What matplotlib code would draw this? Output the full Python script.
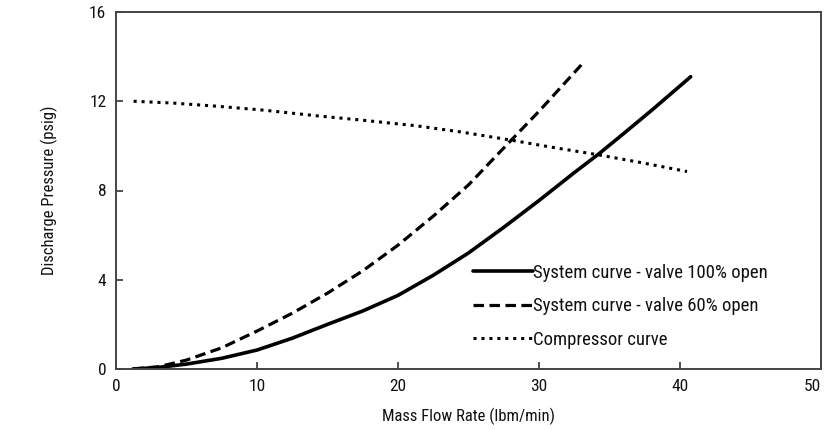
import matplotlib
matplotlib.use("Agg")
import matplotlib.pyplot as plt
from matplotlib import font_manager

names = {f.name for f in font_manager.fontManager.ttflist}
fam = [n for n in ["Liberation Sans Narrow", "Roboto Condensed", "Roboto", "DejaVu Sans"] if n in names]
plt.rcParams['font.family'] = fam

# Data
sys100_x = [1.2, 3, 5, 7.5, 10, 12.5, 15, 17.5, 20, 22.5, 25, 27.5, 30, 32.5, 34.2, 36, 38, 40.76]
sys100_y = [0.0, 0.07, 0.22, 0.48, 0.85, 1.38, 2.0, 2.6, 3.3, 4.2, 5.2, 6.35, 7.55, 8.8, 9.62, 10.55, 11.6, 13.1]
sys60_x = [1.2, 3, 5, 7.5, 10, 12.5, 15, 17.5, 20, 22.5, 25, 27.9, 30, 33.0]
sys60_y = [0.0, 0.1, 0.4, 0.95, 1.7, 2.5, 3.4, 4.4, 5.55, 6.85, 8.25, 10.17, 11.55, 13.63]
comp_x = [1.25, 4, 7.1, 10.5, 14.2, 17.5, 21.3, 24.5, 27.9, 30.8, 34.2, 37.5, 40.5]
comp_y = [12.0, 11.92, 11.78, 11.6, 11.35, 11.15, 10.9, 10.62, 10.27, 9.95, 9.6, 9.22, 8.85]
labels = ["System curve - valve 100% open", "System curve - valve 60% open", "Compressor curve"]
xticks = [0, 10, 20, 30, 40, 50]
yticks = [0, 4, 8, 12, 16]

fig = plt.figure(figsize=(8.27, 4.30), dpi=100)
ax = fig.add_axes([116/827, 1 - 369/430, (821-116)/827, (369-12)/430])

ax.plot(sys100_x, sys100_y, color='black', lw=2.6, solid_capstyle='round',
        solid_joinstyle='round', label=labels[0])
ax.plot(sys60_x, sys60_y, color='black', lw=2.3, dashes=(3.3, 1.7), label=labels[1])
ax.plot(comp_x, comp_y, color='black', lw=2.2, dashes=(1.0, 1.6), label=labels[2])

ax.set_xlim(0, 50)
ax.set_ylim(0, 16)
ax.set_xticks(xticks)
ax.set_yticks(yticks)
ax.tick_params(direction='in', length=5, width=1.2, labelsize=12.5, color='#333333',
               labelcolor='#111111', top=False, right=False, pad=7)
for s in ax.spines.values():
    s.set_color('#444444')
    s.set_linewidth(1.4)
fig.canvas.draw()
ax.get_xticklabels()[-1].set_horizontalalignment('right')

ax.set_xlabel("Mass Flow Rate (lbm/min)", fontsize=12, labelpad=10, color='#111111')
ax.set_ylabel("Discharge Pressure (psig)", fontsize=12, labelpad=22, color='#111111')

leg = ax.legend(loc='upper left', bbox_to_anchor=((473-116)/705, (369-264)/357),
                frameon=False, fontsize=13.5, handlelength=3.2, handletextpad=0.0,
                labelspacing=0.82, borderpad=0, borderaxespad=0)
for t in leg.get_texts():
    t.set_color('#111111')

fig.savefig("out.png", dpi=100)
